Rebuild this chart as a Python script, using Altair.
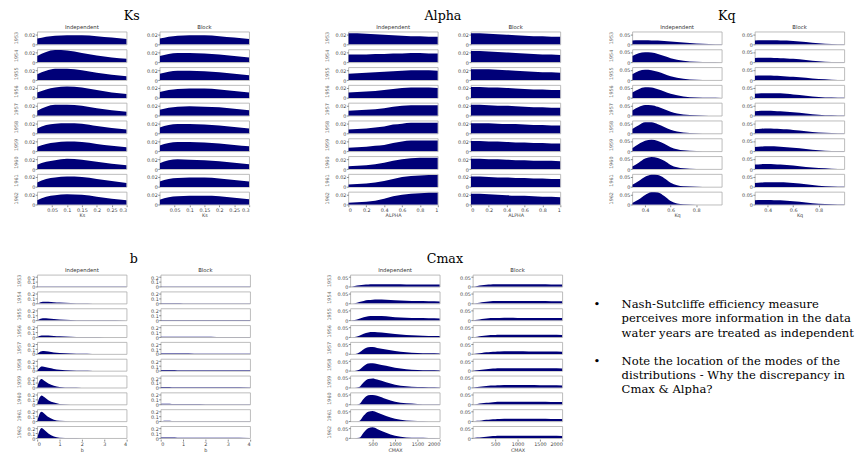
import altair as alt
import pandas as pd

YEARS = [1953, 1954, 1955, 1956, 1957, 1958, 1959, 1960, 1961, 1962]
TYPES = ["Independent", "Block"]

# ---------------- Ks ----------------
KS_X = [0, 0.03, 0.06, 0.1, 0.15, 0.2, 0.25, 0.3]
KS_IND = [
    [0.012, 0.016, 0.018, 0.019, 0.019, 0.017, 0.014, 0.011],
    [0.013, 0.021, 0.025, 0.024, 0.019, 0.014, 0.010, 0.007],
    [0.012, 0.019, 0.023, 0.023, 0.020, 0.015, 0.011, 0.008],
    [0.011, 0.017, 0.021, 0.023, 0.021, 0.016, 0.011, 0.008],
    [0.010, 0.018, 0.022, 0.022, 0.020, 0.015, 0.011, 0.008],
    [0.010, 0.017, 0.020, 0.021, 0.020, 0.015, 0.011, 0.008],
    [0.009, 0.015, 0.018, 0.020, 0.019, 0.015, 0.011, 0.008],
    [0.009, 0.015, 0.018, 0.021, 0.019, 0.015, 0.011, 0.008],
    [0.009, 0.016, 0.019, 0.021, 0.020, 0.016, 0.012, 0.008],
    [0.009, 0.016, 0.019, 0.021, 0.020, 0.016, 0.012, 0.009],
]
KS_BLK = [
    [0.012, 0.016, 0.018, 0.019, 0.019, 0.017, 0.014, 0.011],
    [0.013, 0.017, 0.019, 0.019, 0.018, 0.016, 0.013, 0.010],
    [0.013, 0.017, 0.019, 0.019, 0.018, 0.016, 0.013, 0.010],
    [0.012, 0.016, 0.018, 0.019, 0.019, 0.017, 0.014, 0.011],
    [0.012, 0.016, 0.018, 0.019, 0.018, 0.017, 0.014, 0.011],
    [0.012, 0.017, 0.019, 0.019, 0.018, 0.016, 0.013, 0.010],
    [0.012, 0.017, 0.019, 0.019, 0.018, 0.016, 0.013, 0.010],
    [0.012, 0.018, 0.020, 0.019, 0.018, 0.016, 0.013, 0.010],
    [0.011, 0.016, 0.018, 0.019, 0.019, 0.017, 0.014, 0.011],
    [0.010, 0.015, 0.017, 0.018, 0.018, 0.017, 0.014, 0.011],
]

# ---------------- Alpha ----------------
AL_X = [0, 0.1, 0.2, 0.3, 0.4, 0.5, 0.6, 0.7, 0.8, 0.9, 1.0]
AL_IND = [
    [0.023, 0.023, 0.022, 0.021, 0.020, 0.019, 0.018, 0.017, 0.017, 0.016, 0.016],
    [0.016, 0.016, 0.016, 0.017, 0.017, 0.018, 0.018, 0.019, 0.019, 0.018, 0.018],
    [0.013, 0.014, 0.015, 0.016, 0.017, 0.018, 0.019, 0.020, 0.020, 0.020, 0.019],
    [0.011, 0.012, 0.013, 0.014, 0.016, 0.018, 0.020, 0.021, 0.021, 0.021, 0.020],
    [0.010, 0.011, 0.012, 0.013, 0.015, 0.018, 0.020, 0.021, 0.021, 0.021, 0.021],
    [0.008, 0.009, 0.010, 0.012, 0.014, 0.018, 0.020, 0.022, 0.022, 0.022, 0.022],
    [0.007, 0.008, 0.009, 0.011, 0.013, 0.017, 0.020, 0.022, 0.022, 0.022, 0.022],
    [0.006, 0.007, 0.008, 0.010, 0.013, 0.017, 0.020, 0.022, 0.023, 0.023, 0.023],
    [0.005, 0.006, 0.007, 0.009, 0.012, 0.016, 0.020, 0.022, 0.023, 0.024, 0.024],
    [0.004, 0.005, 0.006, 0.008, 0.012, 0.017, 0.020, 0.022, 0.023, 0.024, 0.024],
]
AL_BLK = [
    [0.023, 0.023, 0.022, 0.021, 0.020, 0.019, 0.018, 0.017, 0.017, 0.016, 0.016],
    [0.023, 0.023, 0.022, 0.021, 0.020, 0.019, 0.018, 0.017, 0.016, 0.016, 0.015],
    [0.022, 0.022, 0.022, 0.021, 0.020, 0.019, 0.018, 0.017, 0.016, 0.016, 0.015],
    [0.022, 0.022, 0.021, 0.021, 0.020, 0.019, 0.018, 0.017, 0.017, 0.016, 0.016],
    [0.022, 0.022, 0.021, 0.020, 0.020, 0.019, 0.018, 0.017, 0.017, 0.016, 0.016],
    [0.021, 0.021, 0.021, 0.020, 0.019, 0.019, 0.018, 0.017, 0.017, 0.016, 0.016],
    [0.021, 0.021, 0.020, 0.020, 0.019, 0.018, 0.018, 0.017, 0.017, 0.016, 0.016],
    [0.021, 0.021, 0.020, 0.020, 0.019, 0.018, 0.018, 0.017, 0.017, 0.017, 0.016],
    [0.021, 0.021, 0.020, 0.019, 0.019, 0.018, 0.018, 0.017, 0.017, 0.016, 0.016],
    [0.022, 0.022, 0.021, 0.020, 0.019, 0.018, 0.018, 0.017, 0.016, 0.016, 0.015],
]

# ---------------- Kq ----------------
KQ_X = [0.3, 0.35, 0.4, 0.45, 0.5, 0.55, 0.6, 0.7, 0.8, 0.9, 1.0]
KQ_IND = [
    [0.020, 0.021, 0.021, 0.020, 0.019, 0.017, 0.015, 0.010, 0.005, 0.002, 0.001],
    [0.030, 0.044, 0.049, 0.047, 0.040, 0.030, 0.020, 0.008, 0.003, 0.001, 0.000],
    [0.028, 0.044, 0.050, 0.048, 0.040, 0.030, 0.019, 0.007, 0.002, 0.001, 0.000],
    [0.026, 0.042, 0.051, 0.050, 0.042, 0.031, 0.020, 0.007, 0.002, 0.001, 0.000],
    [0.025, 0.042, 0.052, 0.051, 0.043, 0.031, 0.019, 0.006, 0.002, 0.000, 0.000],
    [0.022, 0.040, 0.054, 0.054, 0.045, 0.032, 0.018, 0.005, 0.001, 0.000, 0.000],
    [0.015, 0.035, 0.051, 0.056, 0.050, 0.036, 0.020, 0.005, 0.001, 0.000, 0.000],
    [0.012, 0.031, 0.051, 0.058, 0.054, 0.040, 0.020, 0.004, 0.001, 0.000, 0.000],
    [0.010, 0.028, 0.049, 0.059, 0.057, 0.042, 0.020, 0.003, 0.001, 0.000, 0.000],
    [0.008, 0.025, 0.047, 0.060, 0.059, 0.042, 0.018, 0.002, 0.000, 0.000, 0.000],
]
KQ_BLK = [
    [0.020, 0.021, 0.021, 0.021, 0.020, 0.019, 0.017, 0.012, 0.006, 0.002, 0.001],
    [0.021, 0.022, 0.022, 0.021, 0.020, 0.019, 0.017, 0.011, 0.005, 0.002, 0.001],
    [0.021, 0.022, 0.022, 0.021, 0.020, 0.018, 0.016, 0.011, 0.005, 0.002, 0.001],
    [0.020, 0.022, 0.023, 0.023, 0.022, 0.020, 0.017, 0.011, 0.005, 0.002, 0.001],
    [0.022, 0.024, 0.024, 0.023, 0.021, 0.019, 0.017, 0.011, 0.005, 0.002, 0.001],
    [0.021, 0.023, 0.024, 0.023, 0.022, 0.020, 0.017, 0.011, 0.005, 0.002, 0.001],
    [0.021, 0.023, 0.024, 0.024, 0.022, 0.020, 0.017, 0.011, 0.005, 0.002, 0.001],
    [0.022, 0.024, 0.025, 0.024, 0.022, 0.020, 0.017, 0.010, 0.005, 0.002, 0.001],
    [0.019, 0.021, 0.022, 0.022, 0.022, 0.021, 0.019, 0.013, 0.006, 0.002, 0.001],
    [0.022, 0.023, 0.023, 0.022, 0.021, 0.019, 0.017, 0.011, 0.005, 0.002, 0.001],
]

# ---------------- b ----------------
B_X = [0, 0.1, 0.2, 0.3, 0.5, 0.75, 1.0, 1.5, 2.0, 2.5, 3.0, 4.0]
B_IND = [
    [0.006, 0.007, 0.007, 0.007, 0.007, 0.007, 0.007, 0.007, 0.007, 0.007, 0.007, 0.007],
    [0.000, 0.020, 0.034, 0.040, 0.038, 0.030, 0.022, 0.012, 0.006, 0.003, 0.001, 0.000],
    [0.000, 0.024, 0.040, 0.044, 0.040, 0.030, 0.020, 0.010, 0.005, 0.002, 0.001, 0.000],
    [0.000, 0.024, 0.034, 0.038, 0.035, 0.028, 0.020, 0.012, 0.006, 0.003, 0.001, 0.000],
    [0.000, 0.040, 0.060, 0.064, 0.055, 0.035, 0.022, 0.010, 0.004, 0.001, 0.000, 0.000],
    [0.000, 0.060, 0.090, 0.085, 0.065, 0.040, 0.022, 0.008, 0.003, 0.000, 0.000, 0.000],
    [0.000, 0.140, 0.180, 0.150, 0.090, 0.040, 0.015, 0.003, 0.000, 0.000, 0.000, 0.000],
    [0.000, 0.140, 0.190, 0.160, 0.090, 0.040, 0.012, 0.002, 0.000, 0.000, 0.000, 0.000],
    [0.000, 0.150, 0.200, 0.170, 0.090, 0.035, 0.010, 0.002, 0.000, 0.000, 0.000, 0.000],
    [0.000, 0.150, 0.210, 0.180, 0.100, 0.035, 0.010, 0.002, 0.000, 0.000, 0.000, 0.000],
]
B_BLK = [
    [0.006, 0.008, 0.008, 0.008, 0.008, 0.008, 0.008, 0.008, 0.008, 0.008, 0.008, 0.007],
    [0.008, 0.010, 0.011, 0.011, 0.010, 0.010, 0.009, 0.008, 0.008, 0.007, 0.007, 0.006],
    [0.008, 0.010, 0.011, 0.010, 0.010, 0.009, 0.009, 0.008, 0.008, 0.007, 0.007, 0.006],
    [0.008, 0.010, 0.010, 0.010, 0.010, 0.009, 0.009, 0.008, 0.008, 0.007, 0.007, 0.006],
    [0.007, 0.009, 0.010, 0.010, 0.009, 0.009, 0.009, 0.008, 0.008, 0.007, 0.007, 0.006],
    [0.009, 0.012, 0.013, 0.012, 0.011, 0.010, 0.009, 0.008, 0.008, 0.007, 0.007, 0.006],
    [0.010, 0.014, 0.015, 0.014, 0.012, 0.011, 0.010, 0.009, 0.008, 0.007, 0.007, 0.006],
    [0.010, 0.014, 0.015, 0.014, 0.012, 0.011, 0.010, 0.009, 0.008, 0.007, 0.007, 0.006],
    [0.007, 0.009, 0.010, 0.010, 0.009, 0.009, 0.009, 0.008, 0.008, 0.007, 0.007, 0.006],
    [0.010, 0.013, 0.014, 0.013, 0.012, 0.011, 0.010, 0.009, 0.008, 0.007, 0.007, 0.006],
]

# ---------------- Cmax ----------------
C_X = [0, 100, 200, 300, 400, 500, 600, 800, 1000, 1250, 1500, 1750, 2000]
C_IND = [
    [0.0, 0.004, 0.008, 0.011, 0.012, 0.013, 0.013, 0.013, 0.013, 0.012, 0.012, 0.012, 0.012],
    [0.0, 0.002, 0.008, 0.014, 0.018, 0.020, 0.021, 0.020, 0.017, 0.015, 0.013, 0.012, 0.011],
    [0.0, 0.002, 0.008, 0.016, 0.021, 0.023, 0.023, 0.021, 0.017, 0.014, 0.012, 0.011, 0.010],
    [0.0, 0.001, 0.008, 0.018, 0.025, 0.027, 0.026, 0.022, 0.017, 0.012, 0.009, 0.007, 0.006],
    [0.0, 0.000, 0.008, 0.025, 0.035, 0.036, 0.032, 0.024, 0.016, 0.010, 0.006, 0.004, 0.003],
    [0.0, 0.000, 0.006, 0.025, 0.038, 0.040, 0.036, 0.026, 0.016, 0.009, 0.005, 0.003, 0.002],
    [0.0, 0.000, 0.004, 0.028, 0.045, 0.048, 0.042, 0.028, 0.015, 0.007, 0.003, 0.002, 0.001],
    [0.0, 0.000, 0.003, 0.030, 0.048, 0.050, 0.045, 0.028, 0.014, 0.006, 0.003, 0.001, 0.001],
    [0.0, 0.000, 0.002, 0.030, 0.050, 0.053, 0.046, 0.028, 0.013, 0.005, 0.002, 0.001, 0.000],
    [0.0, 0.000, 0.002, 0.030, 0.052, 0.056, 0.048, 0.028, 0.012, 0.004, 0.002, 0.001, 0.000],
]
C_BLK = [
    [0.0, 0.004, 0.008, 0.011, 0.012, 0.013, 0.013, 0.013, 0.013, 0.013, 0.013, 0.012, 0.012],
    [0.0, 0.003, 0.007, 0.010, 0.012, 0.013, 0.014, 0.014, 0.014, 0.013, 0.013, 0.012, 0.012],
    [0.0, 0.003, 0.007, 0.010, 0.012, 0.013, 0.013, 0.014, 0.013, 0.013, 0.013, 0.012, 0.012],
    [0.0, 0.003, 0.006, 0.009, 0.011, 0.012, 0.013, 0.013, 0.013, 0.013, 0.013, 0.013, 0.012],
    [0.0, 0.003, 0.006, 0.009, 0.011, 0.012, 0.013, 0.014, 0.014, 0.013, 0.013, 0.013, 0.012],
    [0.0, 0.003, 0.006, 0.009, 0.011, 0.012, 0.013, 0.014, 0.014, 0.014, 0.013, 0.013, 0.012],
    [0.0, 0.003, 0.006, 0.009, 0.011, 0.012, 0.013, 0.014, 0.014, 0.014, 0.013, 0.013, 0.012],
    [0.0, 0.003, 0.006, 0.009, 0.011, 0.013, 0.014, 0.015, 0.015, 0.014, 0.014, 0.013, 0.013],
    [0.0, 0.003, 0.005, 0.008, 0.010, 0.011, 0.012, 0.013, 0.013, 0.013, 0.013, 0.012, 0.012],
    [0.0, 0.003, 0.005, 0.008, 0.010, 0.011, 0.012, 0.013, 0.013, 0.013, 0.013, 0.012, 0.011],
]

# ---------------- slide text ----------------
LINES = [
    "Nash-Sutcliffe efficiency measure",
    "perceives more information in the data",
    "water years are treated as independent",
    "Note the location of the modes of the",
    "distributions - Why the discrepancy in",
    "Cmax & Alpha?",
]
LINE_ROW = [0, 1, 2, 4, 5, 6]
BULLET_ROW = [0, 4]

NAVY = "#000078"
PW, RS = 92, 4.3
TITLE_FONT = "DejaVu Serif"


def frame(xs, ind, blk):
    rows = []
    for t, series in (("Independent", ind), ("Block", blk)):
        for yr, vals in zip(YEARS, series):
            for x, v in zip(xs, vals):
                rows.append({"year": str(yr), "type": t, "x": x, "y": v})
    return pd.DataFrame(rows)


def group(title, xs, ind, blk, xdom, ydom, xticks, yticks, xfmt, yfmt, xtitle,
          colspace, rowpad, ph):
    base = alt.Chart(frame(xs, ind, blk)).mark_area(
        color=NAVY, interpolate="monotone", clip=True
    ).encode(
        x=alt.X("x:Q", scale=alt.Scale(domain=xdom, nice=False, zero=False),
                axis=alt.Axis(values=xticks, format=xfmt, title=xtitle)),
        y=alt.Y("y:Q", scale=alt.Scale(domain=ydom, nice=False),
                axis=alt.Axis(values=yticks, format=yfmt, title=None)),
    ).properties(width=PW, height=ph)
    return base.facet(
        row=alt.Row("year:N", sort=[str(y) for y in YEARS],
                    header=alt.Header(title=None, labelAngle=270, labelFontSize=5,
                                      labelPadding=rowpad, labelOrient="left",
                                      labelColor="#666")),
        column=alt.Column("type:N", sort=TYPES,
                          header=alt.Header(title=None, labelFontSize=5.5, labelPadding=1,
                                            labelColor="#333")),
        spacing={"row": RS, "column": colspace},
    ).resolve_axis(y="independent").properties(
        bounds="flush",
        title=alt.TitleParams(title, font=TITLE_FONT, fontSize=13, fontWeight="normal",
                              color="black", anchor="middle", offset=3)
    )


ks = group("Ks", KS_X, KS_IND, KS_BLK, [0, 0.3], [0, 0.026],
           [0.05, 0.1, 0.15, 0.2, 0.25, 0.3], [0, 0.02], ".2~f", "~g", "Ks", 34, 14, 13.2)
al = group("Alpha", AL_X, AL_IND, AL_BLK, [0, 1], [0, 0.026],
           [0, 0.2, 0.4, 0.6, 0.8, 1], [0, 0.02], "~g", "~g", "ALPHA", 34, 14, 13.2)
kq = group("Kq", KQ_X, KQ_IND, KQ_BLK, [0.3, 1.0], [0, 0.062],
           [0.4, 0.6, 0.8], [0, 0.05], "~g", "~g", "Kq", 34, 14, 13.2)
bb = group("b", B_X, B_IND, B_BLK, [0, 4], [0, 0.25],
           [0, 1, 2, 3, 4], [0, 0.1, 0.2], "~g", "~g", "b", 35, 11, 12.3)
cm = group("Cmax", C_X, C_IND, C_BLK, [0, 2000], [0, 0.062],
           [500, 1000, 1500, 2000], [0, 0.05], "d", "~g", "CMAX", 34, 14, 12.3)

lines_df = pd.DataFrame({"row": LINE_ROW, "line": LINES})
bullets_df = pd.DataFrame({"row": BULLET_ROW, "b": ["•"] * len(BULLET_ROW)})
yscale = alt.Scale(domain=[-2.1, 9.9], reverse=True)
txt = alt.Chart(lines_df).mark_text(
    align="left", baseline="middle", font=TITLE_FONT, fontSize=11.9, color="black"
).encode(x=alt.value(29), y=alt.Y("row:Q", scale=yscale, axis=None), text="line:N")
bul = alt.Chart(bullets_df).mark_text(
    align="left", baseline="middle", font=TITLE_FONT, fontSize=11.9, color="black"
).encode(x=alt.value(0), y=alt.Y("row:Q", scale=yscale, axis=None), text="b:N")
text_chart = alt.layer(bul, txt).properties(
    width=230, height=174, view=alt.ViewBackground(stroke="transparent")
)

row1 = alt.hconcat(alt.hconcat(ks, al, spacing=77), kq, spacing=49)
row2 = alt.hconcat(alt.hconcat(bb, cm, spacing=78), text_chart, spacing=30)

chart = alt.vconcat(row1, row2, spacing=35).properties(
    padding={"left": 6, "top": -5, "right": 0, "bottom": -2},
    background="white",
).configure_axis(
    labelFontSize=5, labelColor="#444", labelFont="DejaVu Sans", tickSize=2,
    tickColor="#888", domain=False, grid=False, titleFontSize=5, titlePadding=1,
    labelPadding=0.5, titleFont="DejaVu Sans", titleFontWeight="normal", titleColor="#444",
    labelOverlap=False
).configure_header(
    labelFont="DejaVu Sans"
).configure_view(
    stroke="#aaa", strokeWidth=0.8
)

chart.save("out.html", embed_options={"renderer": "svg", "actions": False})
